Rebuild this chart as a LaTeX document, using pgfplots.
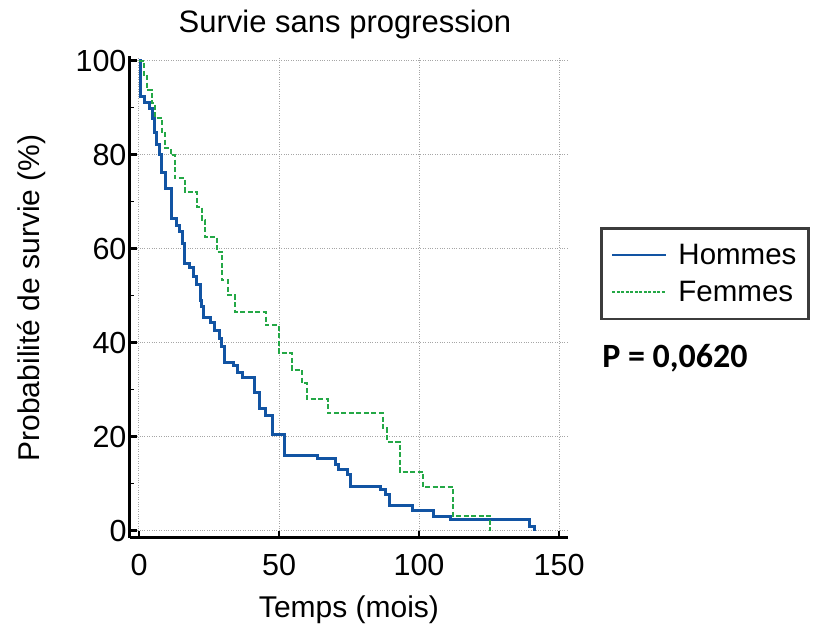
\documentclass[border=0pt]{standalone}
\usepackage{fontspec}
\setmainfont{Liberation Sans}
\newfontfamily\carlito{Carlito}
\usepackage{pgfplots}
\pgfplotsset{compat=1.18}
\definecolor{hommes}{RGB}{18,84,163}
\definecolor{femmes}{RGB}{36,168,70}
\definecolor{legframe}{RGB}{60,60,60}
\begin{document}
\begin{tikzpicture}[x=1pt,y=1pt]
\useasboundingbox (0,0) rectangle (815,627);
\begin{axis}[
  at={(130pt,89pt)}, anchor=south west,
  scale only axis, width=438pt, height=482pt,
  xmin=-3.21, xmax=153.2, ymin=-1.55, ymax=101,
  axis lines=left,
  axis line style={-, line width=3pt, black},
  xtick={0,50,100,150}, ytick={0,20,...,100},
  minor y tick num=1,
  tick align=inside,
  major tick length=7pt, minor tick length=4pt,
  every major tick/.append style={line width=2.5pt, black},
  every minor tick/.append style={line width=1pt, black},
  grid=major,
  grid style={dotted, line width=1pt, gray!70},
  /pgf/number format/assume math mode=true,
  ticklabel style={font=\fontsize{30.5}{36}\selectfont},
  xticklabel style={yshift=-13pt},
  title={Survie sans progression},
  title style={at={(axis description cs:0.4909,1.0685)}, anchor=center, yshift=-8pt, font=\fontsize{31}{37}\selectfont},
  xlabel={Temps (mois)},
  xlabel style={at={(axis description cs:0.5,-0.1432)}, anchor=center, yshift=-3pt, font=\fontsize{30}{36}\selectfont},
  ylabel={Probabilité de survie (\%)},
  ylabel style={at={(axis description cs:-0.2237,0.498)}, anchor=center, xshift=0pt, font=\fontsize{30}{36}\selectfont},
  legend style={at={(axis description cs:1.0731,0.6452)}, anchor=north west, draw=legframe, line width=2.5pt,
    font=\fontsize{29.5}{35}\selectfont, inner xsep=10pt, inner ysep=14pt, row sep=11pt, column sep=9pt},
  legend cell align=left,
  legend image code/.code={\draw[#1] (0pt,0pt) -- (54pt,0pt);},
]
\addplot[const plot, hommes, line width=3pt, forget plot] coordinates {
(0,100) (0.5,94.8) (0.7,92.3) (1.8,91.2) (3.9,89.9) (5.0,87.8) (5.7,84.8) (6.4,82.1)
(7.5,80.0) (8.2,76.3) (9.3,72.9) (11.7,66.5) (13.5,65.0) (14.6,63.6) (15.4,61.2)
(16.4,56.9) (17.9,55.9) (19.3,54.0) (20.7,52.3) (21.8,49.0) (22.5,47.6) (23.2,45.4)
(25.4,44.4) (26.8,42.7) (28.6,41.0) (29.6,39.1) (30.7,35.7) (33.6,35.2) (35.0,33.6)
(37.1,32.7) (41.4,29.3) (43.2,26.1) (45.0,24.6) (47.5,20.4) (52.1,16.1) (63.9,15.3)
(70.0,14.0) (71.1,13.1) (74.3,11.9) (75.4,9.5) (86.1,8.7) (87.9,7.6) (89.6,5.3)
(97.5,4.4) (105.0,3.1) (111.1,2.3) (139.6,0.8) (141.4,0)
};
\addplot[const plot, femmes, line width=2pt, dash pattern=on 5pt off 2.5pt, forget plot] coordinates {
(0,100) (1.8,97.0) (2.9,93.8) (4.6,91.0) (5.7,87.8) (8.2,84.6) (9.3,81.4) (11.4,79.9)
(12.9,75.0) (16.4,72.1) (20.7,68.9) (22.5,66.1) (23.6,62.5) (27.9,59.3) (29.6,53.3)
(31.8,50.1) (34.3,46.5) (45.2,43.7) (50.0,37.8) (54.6,34.2) (58.2,31.4) (60.0,28.0)
(67.5,25.0) (87.1,21.8) (88.6,18.9) (93.2,12.5) (101.4,9.3) (112.1,3.1) (125.4,0)
};
\addlegendimage{hommes, line width=2.2pt, solid}
\addlegendimage{femmes, line width=1.5pt, dash pattern=on 3pt off 1.5pt}
\addlegendentry{Hommes}
\addlegendentry{Femmes}
\end{axis}
\node[font={\carlito\bfseries\fontsize{34}{40}\selectfont}] at (675,269) {P = 0,0620};
\end{tikzpicture}
\end{document}
